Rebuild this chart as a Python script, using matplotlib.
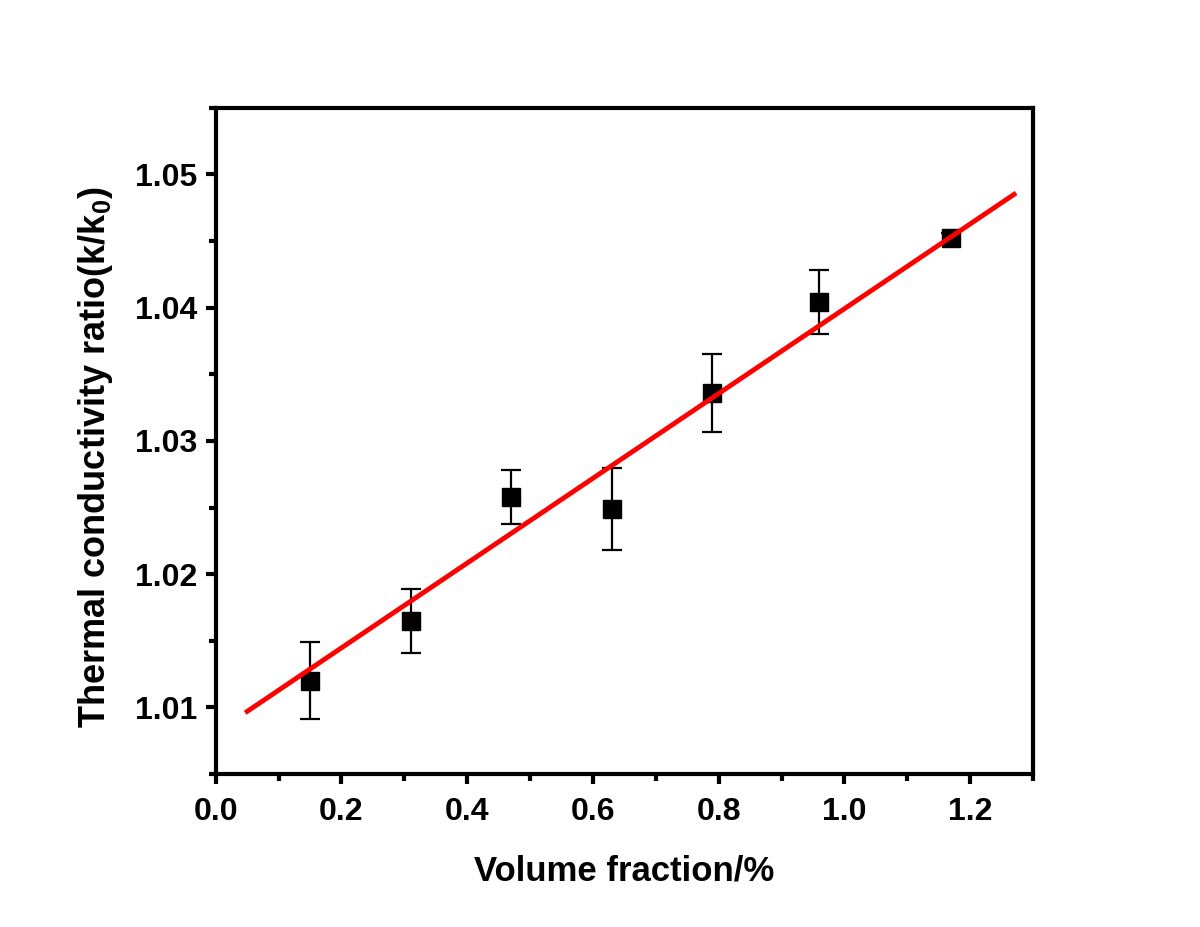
import numpy as np
import matplotlib
matplotlib.use("Agg")
import matplotlib.pyplot as plt
from matplotlib.ticker import MultipleLocator

vol_frac = [0.15, 0.31, 0.47, 0.63, 0.79, 0.96, 1.17]
k_ratio = [1.0120, 1.0165, 1.0258, 1.0249, 1.0336, 1.0404, 1.0452]
k_err = [0.0029, 0.0024, 0.0020, 0.0031, 0.0029, 0.0024, 0.0004]

# linear fit line end points
fit_x = [0.05, 1.27]
fit_y = [1.0097, 1.0485]

plt.rcParams["font.family"] = ["Liberation Sans", "DejaVu Sans"]
plt.rcParams["font.weight"] = "bold"
plt.rcParams["mathtext.fontset"] = "custom"
plt.rcParams["mathtext.rm"] = "Liberation Sans:bold"
plt.rcParams["mathtext.it"] = "Liberation Sans:bold"

fig = plt.figure(figsize=(12, 9.27), dpi=100)
ax = fig.add_axes([0.1798, 0.165, 0.681, 0.7188])

ax.errorbar(vol_frac, k_ratio, yerr=k_err, fmt="none", ecolor="black",
            elinewidth=1.6, capsize=7, capthick=1.6, zorder=2)
ax.plot(vol_frac, k_ratio, "s", color="black", markersize=12.5, zorder=3)
ax.plot(fit_x, fit_y, color="#ff0000", linewidth=3.5, zorder=4)

ax.set_xlim(0, 1.3)
ax.set_ylim(1.005, 1.055)
ax.xaxis.set_major_locator(MultipleLocator(0.2))
ax.xaxis.set_minor_locator(MultipleLocator(0.1))
ax.yaxis.set_major_locator(MultipleLocator(0.01))
ax.yaxis.set_minor_locator(MultipleLocator(0.005))
ax.xaxis.set_major_formatter(plt.FuncFormatter(lambda v, p: f"{v:.1f}"))
ax.yaxis.set_major_formatter(plt.FuncFormatter(lambda v, p: f"{v:.2f}"))

for s in ax.spines.values():
    s.set_linewidth(3)
ax.tick_params(which="major", direction="out", length=7.5, width=3,
               labelsize=23)
ax.tick_params(axis="x", which="major", pad=9)
ax.tick_params(axis="y", which="major", pad=6)
ax.tick_params(which="minor", direction="out", length=5, width=3)

ax.set_xlabel("Volume fraction/%", fontsize=25, fontweight="bold", labelpad=20)
ax.set_ylabel("Thermal conductivity ratio(k/k$_0$)", fontsize=26,
              fontweight="bold")
ax.yaxis.set_label_coords(-0.123, 0.476)

fig.savefig("out.png", dpi=100)
